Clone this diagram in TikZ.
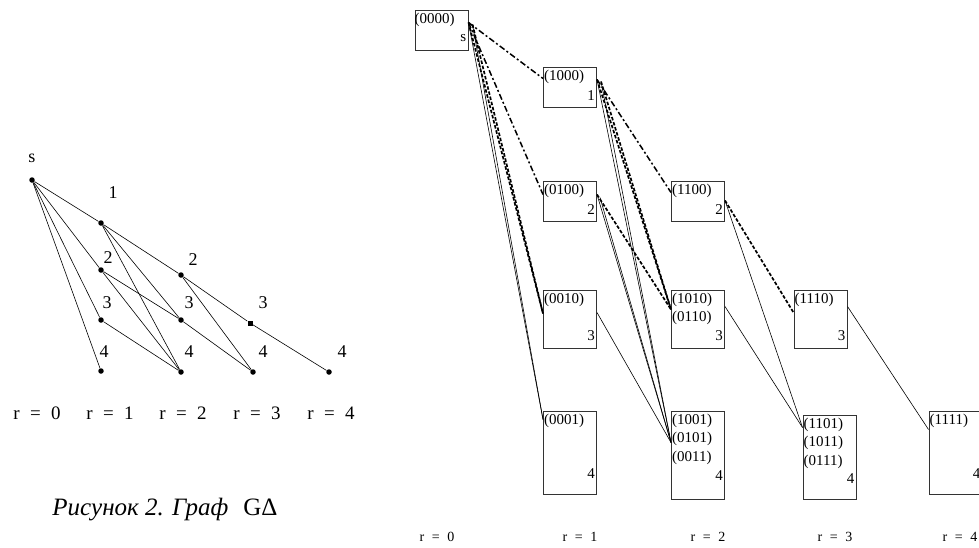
\documentclass[tikz,border=0pt]{standalone}
\usepackage{fontspec}
\setmainfont{Liberation Serif}
\usetikzlibrary{calc}

\newcommand{\req}[1]{r\hspace{.55em}=\hspace{.55em}#1}

\begin{document}
\begin{tikzpicture}[x=1pt,y=-1pt]
    \tikzstyle{vert} = [circle, fill, inner sep=0pt, minimum size=5.5pt]
    \tikzstyle{vertsq} = [rectangle, fill, inner sep=0pt, minimum size=5pt]
    \tikzstyle{vlab} = [font=\fontsize{18}{20}\selectfont, inner sep=0pt]
    \tikzstyle{rlab} = [font=\fontsize{19}{21}\selectfont, inner sep=0pt]
    \tikzstyle{state} = [rectangle, draw=black!80, line width=1pt, inner sep=0pt, minimum width=53pt]
    \tikzstyle{code} = [font=\fontsize{15}{18.5}\selectfont, inner sep=0pt, anchor=north west, align=left]
    \tikzstyle{rank} = [font=\fontsize{15}{17}\selectfont, inner sep=0pt, anchor=east]
    \tikzstyle{layer} = [font=\fontsize{14}{16}\selectfont, inner sep=0pt]
    \tikzstyle{plain} = [line width=0.6pt]
    \tikzstyle{dashdot} = [line width=1.5pt, dash pattern=on 6pt off 2.5pt on 2pt off 2.5pt]
    \tikzstyle{dashline} = [line width=1.7pt, dash pattern=on 3.5pt off 1.8pt]

    \useasboundingbox (0,0) rectangle (979,547);

    % graph G-Delta
    \node [vert] (s) at (32,180) {};
    \node [vlab] (ls) at (32,158) {s};
    \node [vert] (v11) at (101,223) {};
    \node [vert] (v12) at (101,270) {};
    \node [vert] (v13) at (101,320) {};
    \node [vert] (v14) at (101,371) {};
    \node [vert] (v22) at (181,275) {};
    \node [vert] (v23) at (181,320) {};
    \node [vert] (v24) at (181,372) {};
    \node [vertsq] (v33) at (250,323) {};
    \node [vert] (v34) at (253,372) {};
    \node [vert] (v44) at (329,372) {};
    \node [vlab] (l11) at (113,193) {1};
    \node [vlab] (l12) at (108,258) {2};
    \node [vlab] (l13) at (107,303) {3};
    \node [vlab] (l14) at (104,352) {4};
    \node [vlab] (l22) at (193,260) {2};
    \node [vlab] (l23) at (189,303) {3};
    \node [vlab] (l24) at (189,352) {4};
    \node [vlab] (l33) at (263,303) {3};
    \node [vlab] (l34) at (263,352) {4};
    \node [vlab] (l44) at (342,352) {4};
    \foreach \a/\b in {s/v11, s/v12, s/v13, s/v14, v11/v22, v11/v23, v11/v24,
                       v12/v23, v12/v24, v13/v24, v22/v33, v22/v34, v23/v34, v33/v44}
        \draw [plain] (\a) -- (\b);
    \foreach \r/\x in {0/37, 1/110, 2/183, 3/257, 4/331}
        \node [rlab] (lr\r) at (\x,413) {\req{\r}};
    \node [rlab, font=\fontsize{25}{27}\selectfont] (cap) at (165,510) {\textit{Рисунок 2. Граф}\hspace{.6em}GΔ};

    % boxes
    \node [state, minimum height=40pt] (b0000) at (441.5,30) {};
    \node [state, minimum height=40pt] (b1000) at (570,87) {};
    \node [state, minimum height=40pt] (b0100) at (570,201) {};
    \node [state, minimum height=58pt] (b0010) at (570,319) {};
    \node [state, minimum height=83pt] (b0001) at (570,452.5) {};
    \node [state, minimum height=40pt] (b1100) at (698,201) {};
    \node [state, minimum height=58pt] (b1010) at (698,319) {};
    \node [state, minimum height=88pt] (b1001) at (698,455) {};
    \node [state, minimum height=58pt] (b1110) at (820.5,319) {};
    \node [state, minimum height=84pt] (b1101) at (829.5,457) {};
    \node [state, minimum height=83pt] (b1111) at (955.5,452.5) {};

    \node [code] (c0000) at ([yshift=-3pt]b0000.north west) {(0000)};
    \node [code] (c1000) at ([xshift=1pt,yshift=-3pt]b1000.north west) {(1000)};
    \node [code] (c0100) at ([xshift=1pt,yshift=-3pt]b0100.north west) {(0100)};
    \node [code] (c0010) at ([xshift=1pt,yshift=-3pt]b0010.north west) {(0010)};
    \node [code] (c0001) at ([xshift=1pt,yshift=-3pt]b0001.north west) {(0001)};
    \node [code] (c1100) at ([xshift=1pt,yshift=-3pt]b1100.north west) {(1100)};
    \node [code] (c1010) at ([xshift=1pt,yshift=-3pt]b1010.north west) {(1010)\\(0110)};
    \node [code] (c1001) at ([xshift=1pt,yshift=-3pt]b1001.north west) {(1001)\\(0101)\\(0011)};
    \node [code] (c1110) at ([xshift=1pt,yshift=-3pt]b1110.north west) {(1110)};
    \node [code] (c1101) at ([xshift=1pt,yshift=-3pt]b1101.north west) {(1101)\\(1011)\\(0111)};
    \node [code] (c1111) at ([xshift=1pt,yshift=-3pt]b1111.north west) {(1111)};

    \node [rank] (k0000) at ([xshift=-2pt,yshift=12pt]b0000.south east) {s};
    \node [rank] (k1000) at ([xshift=-2pt,yshift=12pt]b1000.south east) {1};
    \node [rank] (k0100) at ([xshift=-2pt,yshift=12pt]b0100.south east) {2};
    \node [rank] (k0010) at ([xshift=-2pt,yshift=13pt]b0010.south east) {3};
    \node [rank] (k0001) at ([xshift=-2pt,yshift=21pt]b0001.south east) {4};
    \node [rank] (k1100) at ([xshift=-2pt,yshift=12pt]b1100.south east) {2};
    \node [rank] (k1010) at ([xshift=-2pt,yshift=13pt]b1010.south east) {3};
    \node [rank] (k1001) at ([xshift=-2pt,yshift=24pt]b1001.south east) {4};
    \node [rank] (k1110) at ([xshift=-2pt,yshift=13pt]b1110.south east) {3};
    \node [rank] (k1101) at ([xshift=-2pt,yshift=21pt]b1101.south east) {4};
    \node [rank] (k1111) at ([xshift=-2pt,yshift=21pt]b1111.south east) {4};

    \foreach \r/\x in {0/437, 1/580, 2/708, 3/835, 4/960}
        \node [layer] (rr\r) at (\x,537) {\req{\r}};

    % ends of connectors
    \coordinate (o0000) at ([yshift=-13pt]b0000.north east);
    \coordinate (o0000b) at ([xshift=4pt,yshift=-15pt]b0000.north east);
    \coordinate (o1000) at ([yshift=-13pt]b1000.north east);
    \coordinate (o1000b) at ([xshift=4pt,yshift=-15pt]b1000.north east);
    \coordinate (o0100) at ([yshift=-14pt]b0100.north east);
    \coordinate (o0100b) at ([xshift=3pt,yshift=-17pt]b0100.north east);
    \coordinate (o0010) at ([yshift=-23pt]b0010.north east);
    \coordinate (o1100) at ([yshift=-20pt]b1100.north east);
    \coordinate (o1010) at ([yshift=-17pt]b1010.north east);
    \coordinate (o1110) at ([yshift=-17pt]b1110.north east);
    \coordinate (i1000) at ([yshift=-12pt]b1000.north west);
    \coordinate (i0100) at ([yshift=-14pt]b0100.north west);
    \coordinate (i0010) at ([yshift=-24pt]b0010.north west);
    \coordinate (i0001) at ([yshift=-9pt]b0001.north west);
    \coordinate (i1100) at ([yshift=-12pt]b1100.north west);
    \coordinate (i1010) at ([yshift=-20pt]b1010.north west);
    \coordinate (i1001) at ([yshift=-32pt]b1001.north west);
    \coordinate (i1110) at ([yshift=-23pt]b1110.north west);
    \coordinate (i1101) at ([yshift=-13pt]b1101.north west);
    \coordinate (i1111) at ([yshift=-19pt]b1111.north west);

    \draw [dashdot] (o0000) -- (i1000);
    \draw [dashdot] (o0000) -- (i0100);
    \draw [dashline] (o0000) -- (i0010);
    \draw [dashline] (o0000b) -- (i0010);
    \draw [plain] (o0000) -- (i0001);
    \draw [plain] (o0000b) -- (i0001);
    \draw [dashdot] (o1000) -- (i1100);
    \draw [dashline] (o1000) -- (i1010);
    \draw [dashline] (o1000b) -- (i1010);
    \draw [plain] (o1000) -- (i1001);
    \draw [plain] (o1000b) -- (i1001);
    \draw [dashline] (o0100) -- (i1010);
    \draw [plain] (o0100) -- (i1001);
    \draw [plain] (o0100b) -- (i1001);
    \draw [plain] (o0010) -- (i1001);
    \draw [dashline] (o1100) -- (i1110);
    \draw [plain] (o1100) -- (i1101);
    \draw [plain] (o1010) -- (i1101);
    \draw [plain] (o1110) -- (i1111);
\end{tikzpicture}
\end{document}
